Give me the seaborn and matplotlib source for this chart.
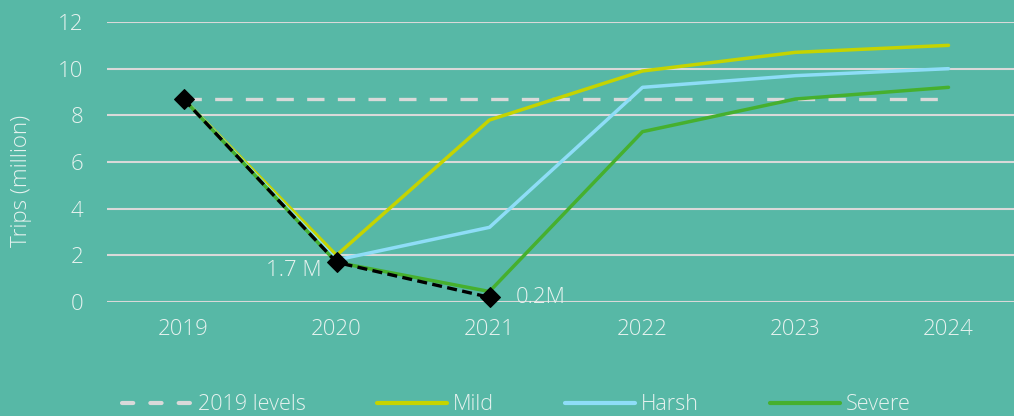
import matplotlib
matplotlib.use("Agg")
import matplotlib.pyplot as plt
import seaborn as sns
import pandas as pd
from matplotlib.lines import Line2D

years = ["2019", "2020", "2021", "2022", "2023", "2024"]
levels_2019 = [8.7, 8.7, 8.7, 8.7, 8.7, 8.7]
mild = [8.7, 2.0, 7.8, 9.9, 10.7, 11.0]
harsh = [8.7, 1.8, 3.2, 9.2, 9.7, 10.0]
severe = [8.7, 1.7, 0.45, 7.3, 8.7, 9.2]
actual = [8.7, 1.7, 0.2]
annotations = ["", "1.7 M", "0.2M"]

BG = "#57B8A6"
TXT = "#E6F2EF"
GRID = "#D9D9D9"

sns.set_theme(style="white")
plt.rcParams["font.family"] = ["Open Sans", "DejaVu Sans"]

fig = plt.figure(figsize=(10.14, 4.16), dpi=100, facecolor=BG)
ax = fig.add_axes([107 / 1014, (416 - 302) / 416, (1025 - 107) / 1014, 280 / 416])
ax.set_facecolor(BG)

xpos = list(range(len(years)))
df = pd.DataFrame({
    "x": xpos * 4,
    "y": levels_2019 + mild + harsh + severe,
    "series": ["2019 levels"] * 6 + ["Mild"] * 6 + ["Harsh"] * 6 + ["Severe"] * 6,
})

palette = {"2019 levels": GRID, "Mild": "#C5D400", "Harsh": "#8EDDF7", "Severe": "#46B02E"}

for name in ["Mild", "Harsh", "Severe"]:
    sub = df[df.series == name]
    sns.lineplot(data=sub, x="x", y="y", ax=ax, color=palette[name], lw=2.5,
                 legend=False, clip_on=False, zorder=3)
sub = df[df.series == "2019 levels"]
sns.lineplot(data=sub, x="x", y="y", ax=ax, color=GRID, lw=2.4, legend=False, zorder=2)
ax.lines[-1].set_dashes((5.2, 4.0))

adf = pd.DataFrame({"x": xpos[:3], "y": actual})
sns.lineplot(data=adf, x="x", y="y", ax=ax, color="black", lw=2.4, marker="D", markersize=10,
             markeredgecolor="black", legend=False, zorder=5, clip_on=False)
ax.lines[-1].set_dashes((3.0, 1.6))

ax.text(xpos[1] - 0.1, actual[1] - 0.35, annotations[1], ha="right", va="center",
        color=TXT, fontsize=16, fontweight="light")
ax.text(xpos[2] + 0.17, actual[2], annotations[2], ha="left", va="center",
        color=TXT, fontsize=16, fontweight="light")

ax.set_xlim(-0.5, 5.5)
ax.set_ylim(0, 12)
ax.set_yticks(range(0, 13, 2))
ax.set_xticks(xpos)
ax.set_xticklabels(years)
ax.grid(axis="y", color=GRID, lw=1.5)
ax.set_axisbelow(True)
for s in ax.spines.values():
    s.set_visible(False)
ax.tick_params(axis="both", length=0, colors=TXT, labelsize=16)
ax.tick_params(axis="x", pad=12)
ax.tick_params(axis="y", pad=17)
for t in ax.get_xticklabels() + ax.get_yticklabels():
    t.set_fontweight("light")
ax.set_xlabel("")
ax.set_ylabel("")
fig.text(22 / 1014, 1 - 181 / 416, "Trips (million)", rotation=90, ha="center", va="center",
         color=TXT, fontsize=16, fontweight="light")

handles = [
    Line2D([], [], color=GRID, lw=3.0, dashes=(2.7, 4.1), dash_capstyle="round"),
    Line2D([], [], color=palette["Mild"], lw=3.0),
    Line2D([], [], color=palette["Harsh"], lw=3.0),
    Line2D([], [], color=palette["Severe"], lw=3.0),
]
order = ["2019 levels", "Mild", "Harsh", "Severe"]
leg = fig.legend(handles, order, loc="center left",
                 bbox_to_anchor=(122 / 1014, 1 - 405 / 416), ncol=4, frameon=False,
                 fontsize=15.5, handlelength=3.25, handletextpad=0.28, columnspacing=3.3,
                 labelcolor=TXT, borderaxespad=0, borderpad=0)
for t in leg.get_texts():
    t.set_fontweight("light")

fig.savefig("out.png", dpi=100, facecolor=BG)
